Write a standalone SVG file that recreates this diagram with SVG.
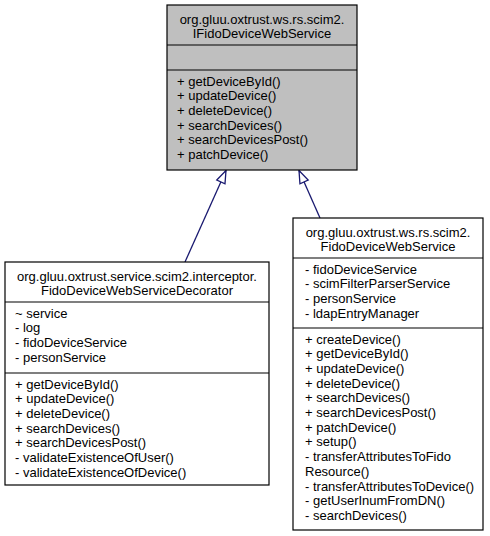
<svg xmlns="http://www.w3.org/2000/svg" width="490" height="536" viewBox="0 0 490 536">
<style>
.box{stroke:#000;stroke-width:1.2}
.gray{fill:#bfbfbf}
.white{fill:#fff}
.sep{stroke:#000;stroke-width:1.2}
text{font-family:"Liberation Sans",Arial,Helvetica,sans-serif;font-size:13px;fill:#000}
.c{text-anchor:middle}
.edge{stroke:#191970;stroke-width:1.3;fill:none}
</style>
<defs>
<marker id="tri" markerUnits="userSpaceOnUse" markerWidth="16" markerHeight="13" viewBox="0 0 16 13" refX="14" refY="6.5" orient="auto">
<path d="M1.5,2 L14,6.5 L1.5,11 Z" fill="#fff" stroke="#191970" stroke-width="1.3"/>
</marker>
</defs>
<rect width="490" height="536" fill="#fff"/>
<g id="connectors">
<line class="edge" x1="185" y1="262" x2="226" y2="170.5" marker-end="url(#tri)"/>
<line class="edge" x1="320" y1="218" x2="299" y2="170.5" marker-end="url(#tri)"/>
</g>
<g id="IFidoDeviceWebService">
<rect class="box gray" x="167" y="5" width="190" height="165"/>
<line class="sep" x1="167" y1="45" x2="357" y2="45"/>
<line class="sep" x1="167" y1="70" x2="357" y2="70"/>
<text class="c" x="262" y="23.5">org.gluu.oxtrust.ws.rs.scim2.</text>
<text class="c" x="262" y="38.2">IFidoDeviceWebService</text>
<text x="177" y="85.5">+ getDeviceById()</text>
<text x="177" y="100.2">+ updateDevice()</text>
<text x="177" y="114.9">+ deleteDevice()</text>
<text x="177" y="129.6">+ searchDevices()</text>
<text x="177" y="144.3">+ searchDevicesPost()</text>
<text x="177" y="159">+ patchDevice()</text>
</g>
<g id="FidoDeviceWebServiceDecorator">
<rect class="box white" x="5" y="262" width="264" height="223"/>
<line class="sep" x1="5" y1="302" x2="269" y2="302"/>
<line class="sep" x1="5" y1="373" x2="269" y2="373"/>
<text class="c" x="137" y="280.5">org.gluu.oxtrust.service.scim2.interceptor.</text>
<text class="c" x="137" y="295.2">FidoDeviceWebServiceDecorator</text>
<text x="15" y="317.5">~ service</text>
<text x="15" y="332.2">- log</text>
<text x="15" y="346.9">- fidoDeviceService</text>
<text x="15" y="361.6">- personService</text>
<text x="15" y="388.5">+ getDeviceById()</text>
<text x="15" y="403.2">+ updateDevice()</text>
<text x="15" y="417.9">+ deleteDevice()</text>
<text x="15" y="432.6">+ searchDevices()</text>
<text x="15" y="447.3">+ searchDevicesPost()</text>
<text x="15" y="462">- validateExistenceOfUser()</text>
<text x="15" y="476.7">- validateExistenceOfDevice()</text>
</g>
<g id="FidoDeviceWebService">
<rect class="box white" x="293" y="218" width="190" height="312"/>
<line class="sep" x1="293" y1="258" x2="483" y2="258"/>
<line class="sep" x1="293" y1="328" x2="483" y2="328"/>
<text class="c" x="388" y="236.5">org.gluu.oxtrust.ws.rs.scim2.</text>
<text class="c" x="388" y="251.2">FidoDeviceWebService</text>
<text x="305" y="273.5">- fidoDeviceService</text>
<text x="305" y="288.2">- scimFilterParserService</text>
<text x="305" y="302.9">- personService</text>
<text x="305" y="317.6">- ldapEntryManager</text>
<text x="305" y="343.5">+ createDevice()</text>
<text x="305" y="358.2">+ getDeviceById()</text>
<text x="305" y="372.9">+ updateDevice()</text>
<text x="305" y="387.6">+ deleteDevice()</text>
<text x="305" y="402.3">+ searchDevices()</text>
<text x="305" y="417">+ searchDevicesPost()</text>
<text x="305" y="431.7">+ patchDevice()</text>
<text x="305" y="446.4">+ setup()</text>
<text x="305" y="461.1">- transferAttributesToFido</text>
<text x="305" y="475.8">Resource()</text>
<text x="305" y="490.5">- transferAttributesToDevice()</text>
<text x="305" y="505.2">- getUserInumFromDN()</text>
<text x="305" y="519.9">- searchDevices()</text>
</g>
</svg>
